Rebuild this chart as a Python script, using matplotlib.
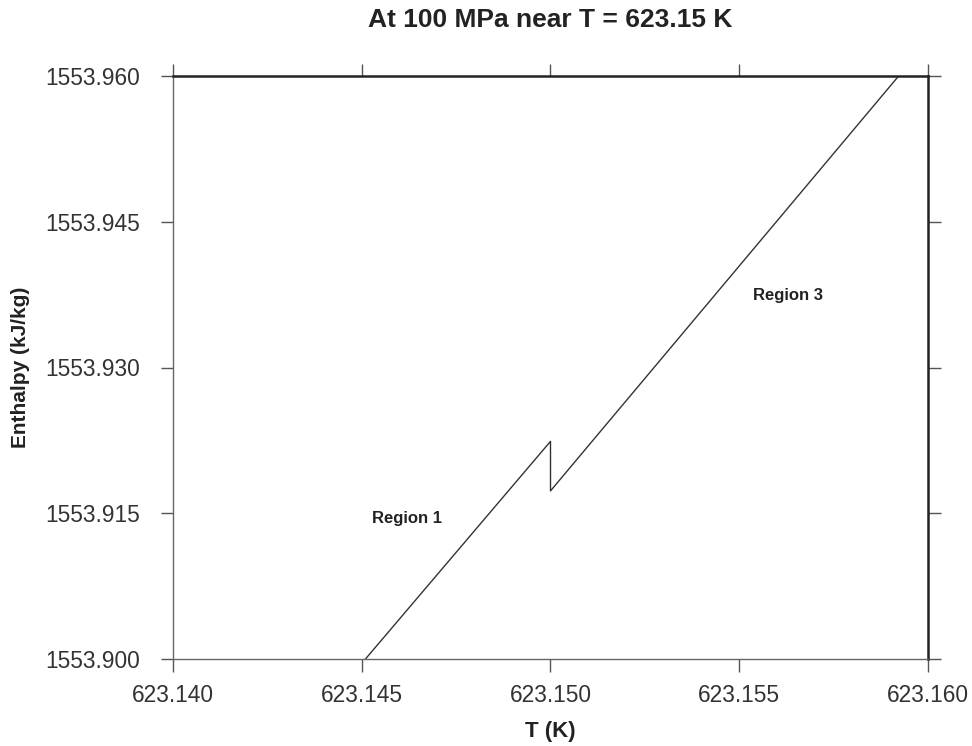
import matplotlib
matplotlib.use("Agg")
import matplotlib.pyplot as plt

T = [623.140, 623.150, 623.150, 623.160]
H = [1553.8767, 1553.9224, 1553.9173, 1553.9636]
xticks = [623.140, 623.145, 623.150, 623.155, 623.160]
yticks = [1553.900, 1553.915, 1553.930, 1553.945, 1553.960]
labels = ["Region 1", "Region 3"]
label_T = [623.1462, 623.1563]
label_H = [1553.9145, 1553.9374]

plt.rcParams['font.family'] = ['Liberation Sans', 'DejaVu Sans']
fig = plt.figure(figsize=(9.72, 7.46), dpi=100)
ax = fig.add_axes([173/972, 1-659/746, (928-173)/972, (659-76)/746])
ax.plot(T, H, color='#333333', lw=1.0)
ax.set_xlim(623.140, 623.160)
ax.set_ylim(1553.900, 1553.960)
ax.set_xticks(xticks)
ax.set_xticklabels([f"{v:.3f}" for v in xticks])
ax.set_yticks(yticks)
ax.set_yticklabels([f"{v:.3f}" for v in yticks])
for s in ['left', 'bottom']:
    ax.spines[s].set_color('#666666')
    ax.spines[s].set_linewidth(1.0)
for s in ['top', 'right']:
    ax.spines[s].set_color('#222222')
    ax.spines[s].set_linewidth(1.8)
ax.tick_params(axis='both', which='both', direction='out', length=9, width=1,
               color='#555555', labelsize=16.4, labelcolor='#333333',
               top=True, right=True, labeltop=False, labelright=False)
ax.tick_params(axis='y', pad=15)
ax.tick_params(axis='x', pad=9)
for t, x, y in zip(labels, label_T, label_H):
    ax.text(x, y, t, fontsize=12, fontweight='bold', color='#222222',
            ha='center', va='center')
ax.set_xlabel("T (K)", fontsize=16, fontweight='bold', color='#222222')
ax.set_ylabel("Enthalpy (kJ/kg)", fontsize=15, fontweight='bold', color='#222222')
ax.xaxis.set_label_coords(0.5, (659-721)/583)
ax.yaxis.set_label_coords((30-173)/755, 0.5)
fig.text(550/972, 1-20/746, "At 100 MPa near T = 623.15 K", fontsize=19,
         fontweight='bold', color='#222222', ha='center', va='center')
fig.savefig("out.png", dpi=100, facecolor='white')
